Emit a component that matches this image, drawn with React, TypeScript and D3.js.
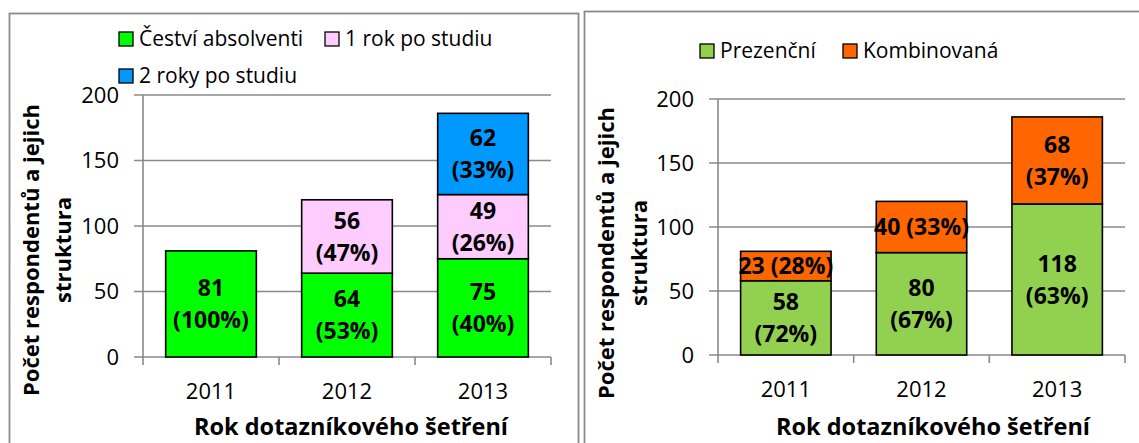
import React from "react";
import * as d3 from "d3";

const years = ["2011", "2012", "2013"];
const yTicks = [0, 50, 100, 150, 200];

// Left chart
const leftSeries = ["Čeství absolventi", "1 rok po studiu", "2 roky po studiu"];
const absolventi = [81, 64, 75];
const rokPo1 = [0, 56, 49];
const rokyPo2 = [0, 0, 62];
const absolventiPct = [100, 53, 40];
const rokPo1Pct = [0, 47, 26];
const rokyPo2Pct = [0, 0, 33];

// Right chart
const rightSeries = ["Prezenční", "Kombinovaná"];
const prezencni = [58, 80, 118];
const kombinovana = [23, 40, 68];
const prezencniPct = [72, 67, 63];
const kombinovanaPct = [28, 33, 37];

const FONT = "'Open Sans', 'DejaVu Sans', sans-serif";
const GRID = "#8a8a8a";

type Seg = { values: number[]; pct: number[]; color: string; single?: boolean[] };

type ChartProps = {
  x0: number; x1: number; y0: number; y200: number;
  segs: Seg[];
  tickLabelX: number;
  yTitleX: [number, number]; yTitleY: number;
  xTitleX: number; xTitleY: number; xLabelY: number;
  legend: { label: string; color: string; sx: number; sy: number }[];
};

function Chart(p: ChartProps) {
  const x = d3.scaleBand<string>().domain(years).range([p.x0, p.x1]).paddingInner(1 / 3).paddingOuter(1 / 6);
  const y = d3.scaleLinear().domain([0, 200]).range([p.y0, p.y200]);
  const step = x.step();
  const bounds = d3.range(years.length + 1).map((i) => p.x0 + i * step);
  const stack = d3.stack<number>().keys(p.segs.map((_, i) => String(i))).value((d, k) => p.segs[+k].values[d]);
  const stacked = stack(d3.range(years.length));
  return (
    <g>
      {yTicks.map((t) => (
        <g key={t}>
          <line x1={p.x0 - 9} x2={p.x1} y1={y(t)} y2={y(t)} stroke={GRID} strokeWidth={1.6} />
          <text x={p.tickLabelX} y={y(t)} dy="0.36em" textAnchor="end" fontSize={22} fontFamily={FONT} fill="#000">{t}</text>
        </g>
      ))}
      <line x1={p.x0} x2={p.x0} y1={p.y200} y2={p.y0} stroke={GRID} strokeWidth={1.6} />
      {bounds.map((b, i) => (
        <line key={i} x1={b} x2={b} y1={p.y0} y2={p.y0 + 8} stroke={GRID} strokeWidth={1.6} />
      ))}
      {stacked.map((layer, si) =>
        layer.map((d, i) => {
          const v = p.segs[si].values[i];
          if (!v) return null;
          const top = y(d[1]);
          const bot = y(d[0]);
          const cx = (x(years[i]) as number) + x.bandwidth() / 2;
          const cy = (top + bot) / 2;
          const single = p.segs[si].single && p.segs[si].single![i];
          return (
            <g key={si + "-" + i}>
              <rect x={x(years[i])} y={top} width={x.bandwidth()} height={bot - top} fill={p.segs[si].color} stroke="#000" strokeWidth={1.6} />
              {single ? (
                <text x={cx} y={cy} dy="0.36em" textAnchor="middle" fontSize={23} fontWeight="bold" fontFamily={FONT} fill="#000">{`${v} (${p.segs[si].pct[i]}%)`}</text>
              ) : (
                <text textAnchor="middle" fontSize={23} fontWeight="bold" fontFamily={FONT} fill="#000">
                  <tspan x={cx} y={cy - 16} dy="0.36em">{v}</tspan>
                  <tspan x={cx} y={cy + 16} dy="0.36em">{`(${p.segs[si].pct[i]}%)`}</tspan>
                </text>
              )}
            </g>
          );
        })
      )}
      {years.map((yr) => (
        <text key={yr} x={(x(yr) as number) + x.bandwidth() / 2} y={p.xLabelY} textAnchor="middle" fontSize={22} fontFamily={FONT} fill="#000">{yr}</text>
      ))}
      <text x={p.xTitleX} y={p.xTitleY} textAnchor="middle" fontSize={23.5} fontWeight="bold" fontFamily={FONT} fill="#000">Rok dotazníkového šetření</text>
      <text transform={`translate(${p.yTitleX[0]},${p.yTitleY}) rotate(-90)`} textAnchor="middle" fontSize={22} fontWeight="bold" fontFamily={FONT} fill="#000">Počet respondentů a jejich</text>
      <text transform={`translate(${p.yTitleX[1]},${p.yTitleY}) rotate(-90)`} textAnchor="middle" fontSize={22} fontWeight="bold" fontFamily={FONT} fill="#000">struktura</text>
      {p.legend.map((l) => (
        <g key={l.label}>
          <rect x={l.sx} y={l.sy} width={14} height={14} fill={l.color} stroke="#000" strokeWidth={1.3} />
          <text x={l.sx + 20} y={l.sy + 13.5} fontSize={21} fontFamily={FONT} fill="#000">{l.label}</text>
        </g>
      ))}
    </g>
  );
}

export default function App() {
  const leftColors = ["#00FF00", "#FFCCFF", "#0099FF"];
  const rightColors = ["#92D050", "#FF6600"];
  return (
    <svg width={1139} height={443} style={{ position: "absolute", left: 0, top: 0, background: "#fff" }}>
      <rect x={0} y={0} width={1139} height={443} fill="#fff" />
      <rect x={9.5} y={13.5} width={569} height={500} fill="none" stroke={GRID} strokeWidth={1.8} />
      <rect x={584.5} y={11.5} width={600} height={500} fill="none" stroke={GRID} strokeWidth={1.8} />
      <Chart
        x0={143} x1={551} y0={357} y200={95}
        segs={[
          { values: absolventi, pct: absolventiPct, color: leftColors[0] },
          { values: rokPo1, pct: rokPo1Pct, color: leftColors[1] },
          { values: rokyPo2, pct: rokyPo2Pct, color: leftColors[2] },
        ]}
        tickLabelX={119}
        yTitleX={[39, 71]} yTitleY={250}
        xTitleX={351} xTitleY={435} xLabelY={399}
        legend={[
          { label: leftSeries[0], color: leftColors[0], sx: 119, sy: 32 },
          { label: leftSeries[1], color: leftColors[1], sx: 325, sy: 32 },
          { label: leftSeries[2], color: leftColors[2], sx: 119, sy: 69 },
        ]}
      />
      <Chart
        x0={718} x1={1125} y0={355} y200={99}
        segs={[
          { values: prezencni, pct: prezencniPct, color: rightColors[0] },
          { values: kombinovana, pct: kombinovanaPct, color: rightColors[1], single: [true, true, false] },
        ]}
        tickLabelX={694}
        yTitleX={[614, 647]} yTitleY={253}
        xTitleX={933} xTitleY={435} xLabelY={397}
        legend={[
          { label: rightSeries[0], color: rightColors[0], sx: 700, sy: 44 },
          { label: rightSeries[1], color: rightColors[1], sx: 843, sy: 44 },
        ]}
      />
    </svg>
  );
}
